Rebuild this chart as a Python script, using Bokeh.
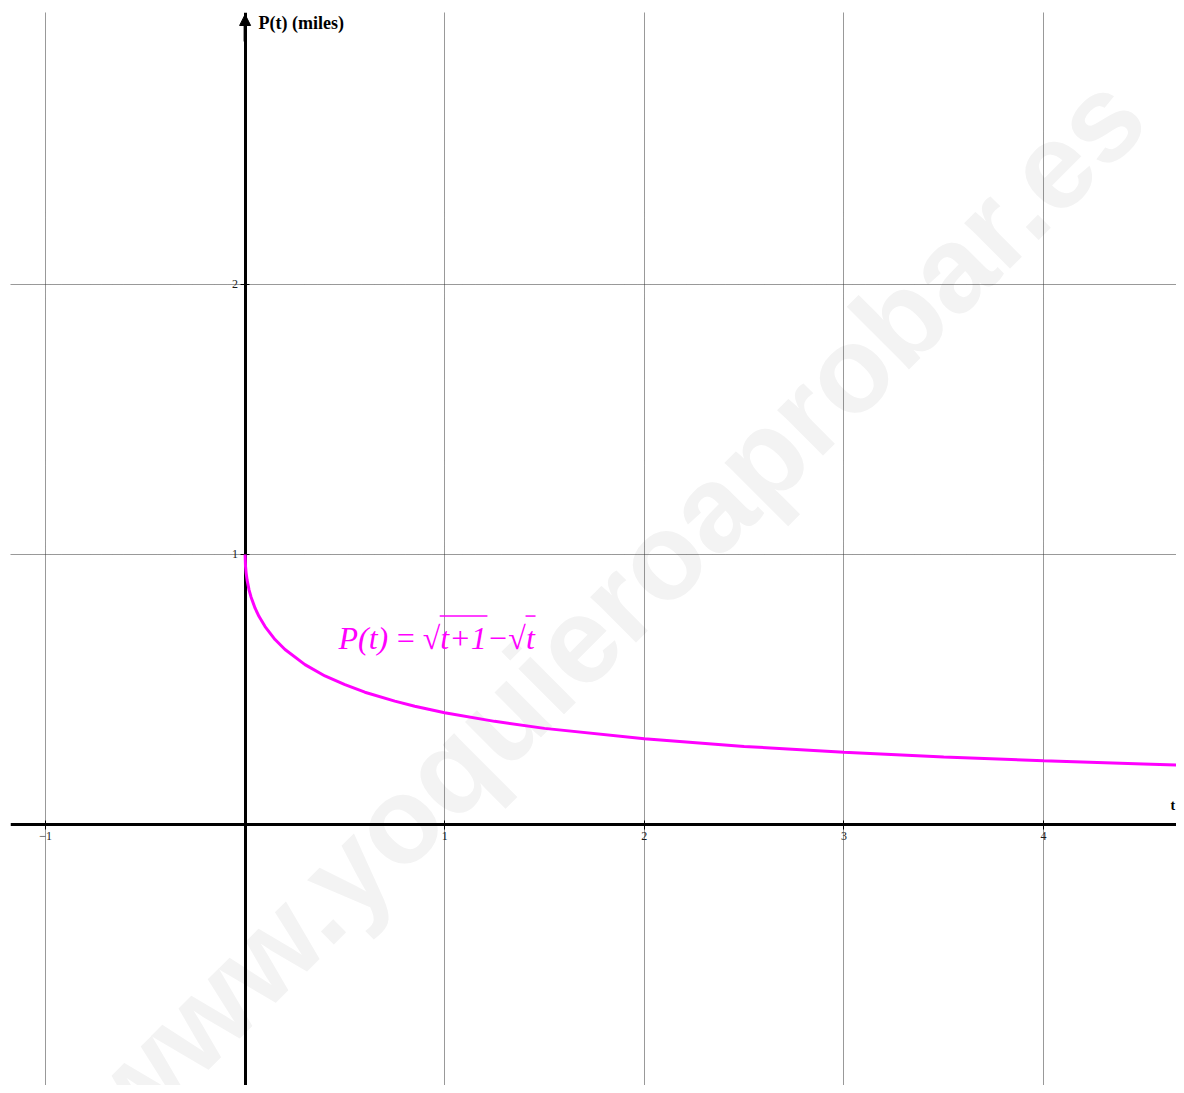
import math
from bokeh.plotting import figure
from bokeh.models import Range1d, FixedTicker, Arrow, NormalHead, ColumnDataSource
from bokeh.core.properties import value
from bokeh.embed import file_html
from bokeh.resources import INLINE

# ---- data ----
t_values = [0, 0.002, 0.005, 0.01, 0.02, 0.03, 0.05, 0.07, 0.1, 0.15, 0.2, 0.3, 0.4,
            0.5, 0.6, 0.75, 0.85, 1.0, 1.25, 1.5, 2.0, 2.5, 3.0, 3.5, 4.0, 4.5, 4.72]
p_values = [1.0, 0.957, 0.932, 0.905, 0.868, 0.842, 0.801, 0.770, 0.733, 0.685, 0.648,
            0.592, 0.550, 0.518, 0.490, 0.457, 0.438, 0.414, 0.382, 0.356, 0.318,
            0.289, 0.268, 0.250, 0.236, 0.224, 0.219]
x_ticks = [-1, 1, 2, 3, 4]
y_ticks = [1, 2]
y_label = "P(t) (miles)"
x_label = "t"
formula = "P(t)\u2009=\u2009√t+1−√t"
watermark = "www.yoquieroaprobar.es"

p = figure(width=1176, height=1085,
           x_range=Range1d(-1.1754, 4.6663), y_range=Range1d(-0.9667, 3.0074),
           output_backend="svg", toolbar_location=None,
           min_border_left=10, min_border_top=12, min_border_right=0, min_border_bottom=0)
p.outline_line_color = None
p.background_fill_color = "white"
p.border_fill_color = "white"

# watermark (under the grid)
wm = p.text(x=[1.836], y=[0.804], text=[watermark], angle=math.pi / 4,
            text_align="center", text_baseline="alphabetic",
            text_font=value("Liberation Sans"), text_font_style="bold",
            text_font_size="122px", text_color="#f3f3f3")
wm.level = "image"

# axes through the origin
for ax in (p.xaxis[0], p.yaxis[0]):
    ax.fixed_location = 0
    ax.axis_line_width = 3
    ax.axis_line_color = "black"
    ax.major_tick_line_color = "black"
    ax.major_tick_line_width = 1
    ax.major_tick_in = 4
    ax.major_tick_out = 5
    ax.minor_tick_line_color = None
    ax.major_label_text_font = "Liberation Serif"
    ax.major_label_text_font_size = "12px"
    ax.major_label_text_color = "#1a1a1a"
p.xaxis.ticker = FixedTicker(ticks=x_ticks)
p.yaxis.ticker = FixedTicker(ticks=y_ticks)
p.xaxis.major_label_standoff = 3
p.yaxis.major_label_standoff = 2

p.xgrid.ticker = FixedTicker(ticks=x_ticks)
p.ygrid.ticker = FixedTicker(ticks=y_ticks)
for g in (p.xgrid[0], p.ygrid[0]):
    g.grid_line_color = "#333333"
    g.grid_line_dash = "1 1"
    g.grid_line_width = 1
    g.grid_line_alpha = 1.0

# arrow on the vertical axis
p.add_layout(Arrow(end=NormalHead(size=11, fill_color="black", line_color="black"),
                   x_start=0, y_start=2.9, x_end=0, y_end=3.0,
                   line_width=3, line_color="black"))

# axis labels
p.text(x=[0.067], y=[2.97], text=[y_label], text_align="left", text_baseline="middle",
       text_font=value("Liberation Serif"), text_font_style="bold",
       text_font_size="18px", text_color="black")
p.text(x=[4.636], y=[0.07], text=[x_label], text_align="left", text_baseline="middle",
       text_font=value("Liberation Serif"), text_font_style="bold",
       text_font_size="14px", text_color="black")

# curve
src = ColumnDataSource(data=dict(t=t_values, P=p_values))
curve = p.line("t", "P", source=src, line_color="#ff00ff", line_width=3)
curve.level = "overlay"

# formula with radical bars
p.text(x=[0.468], y=[0.689], text=[formula], text_align="left", text_baseline="alphabetic",
       text_font=value("Liberation Serif"), text_font_style="italic",
       text_font_size="32px", text_color="#ff00ff")
p.segment(x0=[0.975, 1.405], y0=[0.772, 0.772], x1=[1.214, 1.455], y1=[0.772, 0.772],
          line_color="#ff00ff", line_width=1.5)

open("out.html", "w").write(file_html(p, INLINE))
